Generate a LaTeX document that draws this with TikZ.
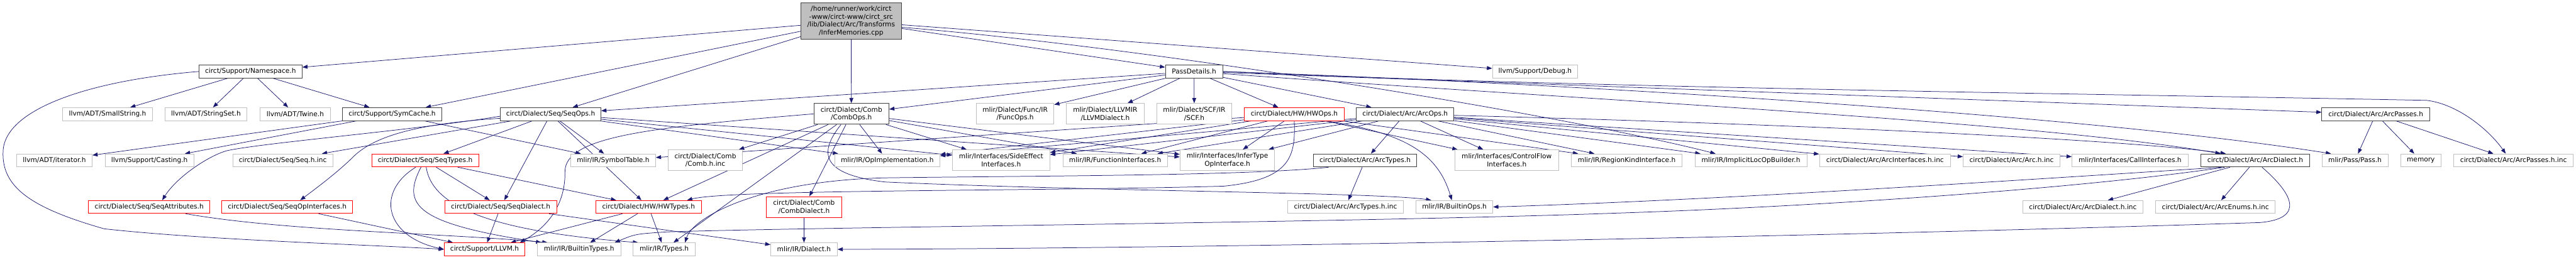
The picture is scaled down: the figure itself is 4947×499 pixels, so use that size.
\documentclass[tikz,border=0pt]{standalone}
\usepackage{fontspec}
\newfontfamily\dvs{DejaVu Sans}
\usetikzlibrary{arrows.meta,calc}
\definecolor{edgecol}{HTML}{191970}
\definecolor{graybd}{HTML}{BFBFBF}
\definecolor{docbd}{HTML}{404040}
\definecolor{topfill}{HTML}{BFBFBF}
\definecolor{redbd}{HTML}{FF0000}
\pgfdeclarelayer{bglayer}
\pgfdeclarelayer{edgelayer}
\pgfsetlayers{bglayer,edgelayer,main}
\tikzset{
  nd/.style={draw=graybd, line width=1pt, fill=white, inner sep=0pt, minimum height=25pt, align=center, font=\dvs\fontsize{12.8}{15}\selectfont},
  nd2/.style={nd, minimum height=40pt},
  docnd/.style={draw=docbd, line width=1.2pt},
  trunc/.style={draw=redbd},
  conn/.style={draw=edgecol, line width=0.9pt, -{Triangle[length=10pt,width=7.5pt]}},
}
\begin{document}
\begin{tikzpicture}[x=1pt,y=-1pt]
\useasboundingbox (0,0) rectangle (4947,499);
\begin{pgfonlayer}{bglayer}
\fill[white] (0,0) rectangle (4947,499);
\end{pgfonlayer}
% row 0
\node[nd, docnd, fill=topfill, minimum width=193pt, minimum height=69pt] (TOP) at (1634.5,40.5) {/home/runner/work/circt\\-www/circt-www/circt\_src\\/lib/Dialect/Arc/Transforms\\/InferMemories.cpp};
% row 1
\node[nd, docnd, minimum width=198pt] (NS) at (481,137.5) {circt/Support/Namespace.h};
\node[nd, docnd, minimum width=110pt] (PD) at (2293,137.5) {PassDetails.h};
\node[nd, minimum width=164pt] (DBG) at (2948,137.5) {llvm/Support/Debug.h};
% row 2
\node[nd, minimum width=173pt] (SS) at (206.5,219.5) {llvm/ADT/SmallString.h};
\node[nd, minimum width=157pt] (SSET) at (395.5,219.5) {llvm/ADT/StringSet.h};
\node[nd, minimum width=136pt] (TW) at (567,219.5) {llvm/ADT/Twine.h};
\node[nd, docnd, minimum width=190pt] (SC) at (753,219.5) {circt/Support/SymCache.h};
\node[nd, docnd, minimum width=193pt] (SEQOPS) at (1057.5,219.5) {circt/Dialect/Seq/SeqOps.h};
\node[nd2, docnd, minimum width=144pt] (COMBOPS) at (1635,219) {circt/Dialect/Comb\\/CombOps.h};
\node[nd2, minimum width=149pt] (FUNC) at (1949.5,219) {mlir/Dialect/Func/IR\\/FuncOps.h};
\node[nd2, minimum width=149pt] (LLVMD) at (2122.5,219) {mlir/Dialect/LLVMIR\\/LLVMDialect.h};
\node[nd2, minimum width=143pt] (SCF) at (2293.5,219) {mlir/Dialect/SCF/IR\\/SCF.h};
\node[nd, trunc, minimum width=191pt] (HWOPS) at (2485.5,219.5) {circt/Dialect/HW/HWOps.h};
\node[nd, docnd, minimum width=187pt] (ARCOPS) at (2698.5,219.5) {circt/Dialect/Arc/ArcOps.h};
\node[nd, docnd, minimum width=207pt] (ARCPASSES) at (4562.5,219.5) {circt/Dialect/Arc/ArcPasses.h};
% row 3
\node[nd, minimum width=145pt] (ITER) at (104.5,308.5) {llvm/ADT/iterator.h};
\node[nd, minimum width=170pt] (CAST) at (287,308.5) {llvm/Support/Casting.h};
\node[nd, minimum width=192pt] (SEQINC) at (543,308.5) {circt/Dialect/Seq/Seq.h.inc};
\node[nd, trunc, minimum width=205pt] (SEQTYPES) at (816.5,308.5) {circt/Dialect/Seq/SeqTypes.h};
\node[nd, minimum width=163pt] (SYMT) at (1177.5,308.5) {mlir/IR/SymbolTable.h};
\node[nd2, minimum width=143pt] (COMBINC) at (1354.5,308) {circt/Dialect/Comb\\/Comb.h.inc};
\node[nd, minimum width=202pt] (OPIMPL) at (1704,308.5) {mlir/IR/OpImplementation.h};
\node[nd2, minimum width=187pt] (SIDE) at (1922.5,308) {mlir/Interfaces/SideEffect\\Interfaces.h};
\node[nd, minimum width=201pt] (FUNCI) at (2141.5,308.5) {mlir/IR/FunctionInterfaces.h};
\node[nd2, minimum width=182pt] (INFER) at (2357,308) {mlir/Interfaces/InferType\\OpInterface.h};
\node[nd, docnd, minimum width=199pt] (ARCTYPES) at (2621.5,308.5) {circt/Dialect/Arc/ArcTypes.h};
\node[nd2, minimum width=199pt] (CF) at (2893.5,308) {mlir/Interfaces/ControlFlow\\Interfaces.h};
\node[nd, minimum width=212pt] (RK) at (3124,308.5) {mlir/IR/RegionKindInterface.h};
\node[nd, minimum width=215pt] (ILOB) at (3362.5,308.5) {mlir/IR/ImplicitLocOpBuilder.h};
\node[nd, minimum width=252pt] (ARCIFINC) at (3620,308.5) {circt/Dialect/Arc/ArcInterfaces.h.inc};
\node[nd, minimum width=186pt] (ARCINC) at (3863,308.5) {circt/Dialect/Arc/Arc.h.inc};
\node[nd, minimum width=223pt] (CALLI) at (4090.5,308.5) {mlir/Interfaces/CallInterfaces.h};
\node[nd, docnd, minimum width=208pt] (ARCD) at (4331,308.5) {circt/Dialect/Arc/ArcDialect.h};
\node[nd, minimum width=127pt] (PASS) at (4522.5,308.5) {mlir/Pass/Pass.h};
\node[nd, minimum width=78pt] (MEM) at (4649,308.5) {memory};
\node[nd, minimum width=230pt] (ARCPINC) at (4827,308.5) {circt/Dialect/Arc/ArcPasses.h.inc};
% row 4
\node[nd, trunc, minimum width=233pt] (SEQATTR) at (286.5,398) {circt/Dialect/Seq/SeqAttributes.h};
\node[nd, trunc, minimum width=251pt] (SEQOPIF) at (551.5,398) {circt/Dialect/Seq/SeqOpInterfaces.h};
\node[nd, trunc, minimum width=215pt] (SEQDIAL) at (961.5,398) {circt/Dialect/Seq/SeqDialect.h};
\node[nd, trunc, minimum width=203pt] (HWTYPES) at (1245.5,398) {circt/Dialect/HW/HWTypes.h};
\node[nd2, trunc, minimum width=144pt] (COMBDIAL) at (1544,398) {circt/Dialect/Comb\\/CombDialect.h};
\node[nd, minimum width=222pt] (ARCTINC) at (2584,398) {circt/Dialect/Arc/ArcTypes.h.inc};
\node[nd, minimum width=148pt] (BOPS) at (2793,398) {mlir/IR/BuiltinOps.h};
\node[nd, minimum width=230pt] (ARCDINC) at (4000,398) {circt/Dialect/Arc/ArcDialect.h.inc};
\node[nd, minimum width=229pt] (ARCEINC) at (4254.5,398) {circt/Dialect/Arc/ArcEnums.h.inc};
% row 5
\node[nd, trunc, minimum width=155pt] (LLVM) at (930.5,479.5) {circt/Support/LLVM.h};
\node[nd, minimum width=160pt] (BTYPES) at (1112,479.5) {mlir/IR/BuiltinTypes.h};
\node[nd, minimum width=119pt] (TYPES) at (1275.5,479.5) {mlir/IR/Types.h};
\node[nd, minimum width=128pt] (DIALECT) at (1544,479.5) {mlir/IR/Dialect.h};

\begin{pgfonlayer}{edgelayer}
\foreach \a/\b in {TOP/NS, TOP/SC, TOP/SEQOPS, TOP/COMBOPS, TOP/PD, TOP/DBG,
  PD/FUNC, PD/LLVMD, PD/SCF, PD/HWOPS, PD/ARCOPS, PD/SEQOPS, PD/COMBOPS, PD/ARCPASSES,
  NS/SS, NS/SSET, NS/TW, NS/SC,
  SC/ITER, SC/CAST, SC/SYMT,
  SEQOPS/SEQINC, SEQOPS/SEQTYPES, SEQOPS/SEQDIAL, SEQOPS/HWTYPES, SEQOPS/SYMT, SEQOPS/OPIMPL, SEQOPS/SIDE, SEQOPS/INFER,
  SEQTYPES/SEQDIAL, SEQTYPES/HWTYPES,
  SEQDIAL/LLVM, SEQDIAL/DIALECT, SEQOPIF/LLVM,
  HWTYPES/LLVM, HWTYPES/BTYPES, HWTYPES/TYPES,
  COMBOPS/COMBINC, COMBOPS/OPIMPL, COMBOPS/COMBDIAL, COMBOPS/HWTYPES, COMBOPS/TYPES, COMBOPS/SIDE, COMBOPS/FUNCI, COMBOPS/INFER,
  COMBDIAL/DIALECT,
  HWOPS/INFER, HWOPS/FUNCI, HWOPS/SIDE, HWOPS/OPIMPL, HWOPS/SYMT, HWOPS/CF, HWOPS/RK,
  ARCOPS/ARCTYPES, ARCOPS/CF, ARCOPS/RK, ARCOPS/ILOB, ARCOPS/ARCIFINC, ARCOPS/ARCINC, ARCOPS/CALLI, ARCOPS/OPIMPL, ARCOPS/SIDE, ARCOPS/FUNCI, ARCOPS/INFER,
  ARCTYPES/ARCTINC,
  ARCD/ARCDINC, ARCD/ARCEINC,
  ARCPASSES/PASS, ARCPASSES/MEM, ARCPASSES/ARCPINC}
  \draw[conn] (\a) -- (\b);
% curved connectors
\draw[conn] (NS.west) .. controls (170,155) and (10,210) .. (6,290) .. controls (2,360) and (60,400) .. (200,440) .. controls (400,462) and (700,470) .. (LLVM.west);
\draw[conn] ($(TOP.east)+(0,12)$) .. controls (2200,90) and (3000,220) .. ($(ILOB.north west)+(40,0)$);
\draw[conn] (PD.east) .. controls (3000,168) and (4000,180) .. (4660,193) .. controls (4720,200) and (4780,250) .. ($(ARCPINC.north)+(-15,0)$);
\draw[conn] (PD.east) .. controls (3000,160) and (4000,220) .. ($(PASS.north west)+(18,0)$);
\draw[conn] (PD) .. controls (3000,190) and (3900,232) .. ($(ARCD.north west)+(38,0)$);
\draw[conn] (ARCOPS) .. controls (3500,240) and (4100,270) .. ($(ARCD.north west)+(48,0)$);
\draw[conn] (COMBOPS.west) .. controls (1250,245) and (1085,262) .. (1085,330) .. controls (1086,400) and (1045,440) .. ($(LLVM.north east)+(-10,0)$);
\draw[conn] ($(COMBOPS.south)+(-20,0)$) .. controls (1575,290) and (1570,335) .. (1700,350) .. controls (2100,368) and (2650,370) .. ($(BOPS.north west)+(30,0)$);
\draw[conn] ($(HWOPS.south east)+(-35,0)$) .. controls (2690,255) and (2760,290) .. ($(BOPS.north)+(-5,0)$);
\draw[conn] (HWOPS.south) .. controls (2488,300) and (2480,345) .. (2350,358) .. controls (2000,368) and (1400,364) .. ($(HWTYPES.north east)+(-28,0)$);
\draw[conn] ($(ARCTYPES.south west)+(30,0)$) .. controls (2400,338) and (2000,338) .. (1700,342) .. controls (1450,348) and (1330,420) .. ($(TYPES.north east)+(-20,0)$);
\draw[conn] ($(ARCD.south west)+(40,0)$) .. controls (3900,345) and (3300,385) .. (BOPS.east);
\draw[conn] ($(ARCD.south west)+(46,0)$) .. controls (4000,362) and (3500,397) .. (3100,410) .. controls (2600,428) and (1600,436) .. (1280,446) .. controls (1220,450) .. ($(BTYPES.north east)+(-12,0)$);
\draw[conn] ($(ARCD.south)+(13,0)$) .. controls (4400,370) and (4430,420) .. (4340,428) .. controls (3500,455) and (2300,478) .. (DIALECT.east);
\draw[conn] ($(SEQOPS.west)+(0,4)$) .. controls (800,250) and (500,275) .. (435,290) .. controls (400,300) and (340,340) .. ($(SEQATTR.north)+(25,0)$);
\draw[conn] ($(SEQOPS.west)+(0,8)$) .. controls (800,238) and (720,262) .. (680,300) .. controls (650,330) and (610,360) .. ($(SEQOPIF.north)+(25,0)$);
\draw[conn] ($(SEQTYPES.south)+(-18,0)$) .. controls (720,370) and (740,455) .. (LLVM.west);
\draw[conn] ($(SEQTYPES.south)+(-8,0)$) .. controls (770,395) and (800,430) .. ($(BTYPES.north west)+(8,0)$);
\draw[conn] ($(SEQTYPES.south)+(2,0)$) .. controls (830,400) and (950,445) .. ($(TYPES.north west)+(10,0)$);
\draw[conn] ($(SEQATTR.south)+(70,0)$) .. controls (550,445) and (850,448) .. ($(BTYPES.north west)+(20,0)$);
\end{pgfonlayer}
\end{tikzpicture}
\end{document}
